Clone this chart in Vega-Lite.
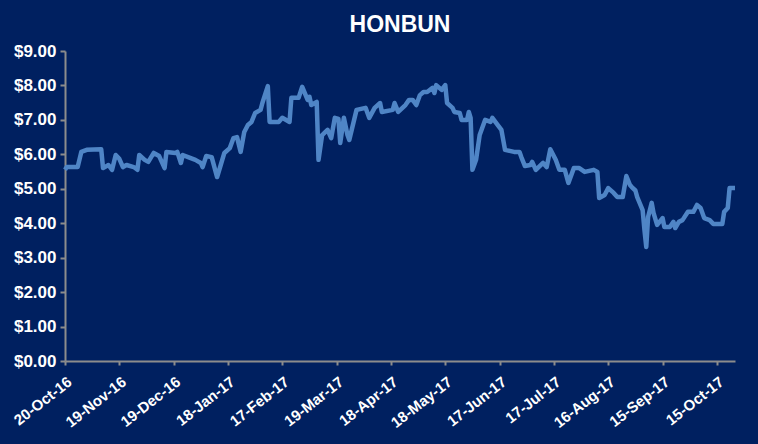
{
  "$schema": "https://vega.github.io/schema/vega-lite/v6.json",
  "width": 670,
  "height": 310,
  "autosize": "none",
  "padding": {"left": 65, "top": 51, "right": 23, "bottom": 83},
  "background": "#002060",
  "title": {"text": "HONBUN", "color": "#ffffff", "font": "Liberation Sans", "fontSize": 23, "fontWeight": "bold", "anchor": "middle", "offset": 5},
  "config": {"view": {"stroke": null}},
  "data": {
    "format": {"parse": {"date": "date:'%Y-%m-%d'"}},
    "values": [
      {"date": "2016-10-20", "price": 5.55}, {"date": "2016-10-21", "price": 5.63}, {"date": "2016-10-27", "price": 5.63},
      {"date": "2016-10-29", "price": 6.07}, {"date": "2016-11-01", "price": 6.13}, {"date": "2016-11-09", "price": 6.15},
      {"date": "2016-11-10", "price": 5.60}, {"date": "2016-11-13", "price": 5.69}, {"date": "2016-11-15", "price": 5.55},
      {"date": "2016-11-17", "price": 5.98}, {"date": "2016-11-19", "price": 5.87}, {"date": "2016-11-21", "price": 5.63},
      {"date": "2016-11-23", "price": 5.69}, {"date": "2016-11-27", "price": 5.63}, {"date": "2016-11-29", "price": 5.55},
      {"date": "2016-11-30", "price": 5.98}, {"date": "2016-12-03", "price": 5.84}, {"date": "2016-12-05", "price": 5.78},
      {"date": "2016-12-08", "price": 6.04}, {"date": "2016-12-11", "price": 5.95}, {"date": "2016-12-14", "price": 5.60},
      {"date": "2016-12-15", "price": 6.07}, {"date": "2016-12-20", "price": 6.04}, {"date": "2016-12-21", "price": 6.07},
      {"date": "2016-12-23", "price": 5.75}, {"date": "2016-12-24", "price": 5.98}, {"date": "2016-12-27", "price": 5.92},
      {"date": "2016-12-31", "price": 5.84}, {"date": "2017-01-03", "price": 5.75}, {"date": "2017-01-04", "price": 5.63},
      {"date": "2017-01-06", "price": 5.95}, {"date": "2017-01-09", "price": 5.92}, {"date": "2017-01-12", "price": 5.34},
      {"date": "2017-01-14", "price": 5.69}, {"date": "2017-01-16", "price": 6.04}, {"date": "2017-01-19", "price": 6.18},
      {"date": "2017-01-21", "price": 6.47}, {"date": "2017-01-23", "price": 6.50}, {"date": "2017-01-25", "price": 6.07},
      {"date": "2017-01-27", "price": 6.65}, {"date": "2017-01-29", "price": 6.85}, {"date": "2017-01-31", "price": 6.94},
      {"date": "2017-02-02", "price": 7.20}, {"date": "2017-02-05", "price": 7.29}, {"date": "2017-02-06", "price": 7.49},
      {"date": "2017-02-09", "price": 7.98}, {"date": "2017-02-10", "price": 6.94}, {"date": "2017-02-15", "price": 6.94},
      {"date": "2017-02-17", "price": 7.06}, {"date": "2017-02-21", "price": 6.94}, {"date": "2017-02-22", "price": 7.64},
      {"date": "2017-02-26", "price": 7.64}, {"date": "2017-02-28", "price": 7.96}, {"date": "2017-03-03", "price": 7.58},
      {"date": "2017-03-04", "price": 7.67}, {"date": "2017-03-05", "price": 7.43}, {"date": "2017-03-08", "price": 7.52},
      {"date": "2017-03-09", "price": 5.84}, {"date": "2017-03-11", "price": 6.56}, {"date": "2017-03-14", "price": 6.71},
      {"date": "2017-03-16", "price": 6.47}, {"date": "2017-03-18", "price": 7.06}, {"date": "2017-03-20", "price": 7.03},
      {"date": "2017-03-21", "price": 6.33}, {"date": "2017-03-23", "price": 7.06}, {"date": "2017-03-25", "price": 6.56},
      {"date": "2017-03-26", "price": 6.42}, {"date": "2017-03-30", "price": 7.29}, {"date": "2017-04-04", "price": 7.35},
      {"date": "2017-04-06", "price": 7.06}, {"date": "2017-04-09", "price": 7.35}, {"date": "2017-04-12", "price": 7.49},
      {"date": "2017-04-13", "price": 7.23}, {"date": "2017-04-19", "price": 7.29}, {"date": "2017-04-20", "price": 7.49},
      {"date": "2017-04-22", "price": 7.23}, {"date": "2017-04-26", "price": 7.43}, {"date": "2017-04-28", "price": 7.58},
      {"date": "2017-04-30", "price": 7.58}, {"date": "2017-05-02", "price": 7.43}, {"date": "2017-05-04", "price": 7.72},
      {"date": "2017-05-06", "price": 7.81}, {"date": "2017-05-08", "price": 7.81}, {"date": "2017-05-11", "price": 7.93},
      {"date": "2017-05-12", "price": 7.78}, {"date": "2017-05-13", "price": 8.01}, {"date": "2017-05-16", "price": 7.87},
      {"date": "2017-05-18", "price": 8.01}, {"date": "2017-05-19", "price": 7.49}, {"date": "2017-05-22", "price": 7.35},
      {"date": "2017-05-23", "price": 7.23}, {"date": "2017-05-26", "price": 7.20}, {"date": "2017-05-27", "price": 7.00},
      {"date": "2017-05-30", "price": 7.00}, {"date": "2017-05-31", "price": 7.23}, {"date": "2017-06-01", "price": 7.06},
      {"date": "2017-06-02", "price": 5.55}, {"date": "2017-06-04", "price": 5.84}, {"date": "2017-06-06", "price": 6.56},
      {"date": "2017-06-09", "price": 7.00}, {"date": "2017-06-12", "price": 6.94}, {"date": "2017-06-13", "price": 7.06},
      {"date": "2017-06-16", "price": 6.85}, {"date": "2017-06-18", "price": 6.71}, {"date": "2017-06-20", "price": 6.13},
      {"date": "2017-06-25", "price": 6.07}, {"date": "2017-06-28", "price": 6.07}, {"date": "2017-06-29", "price": 5.92},
      {"date": "2017-07-01", "price": 5.66}, {"date": "2017-07-04", "price": 5.69}, {"date": "2017-07-05", "price": 5.78},
      {"date": "2017-07-07", "price": 5.55}, {"date": "2017-07-11", "price": 5.75}, {"date": "2017-07-13", "price": 5.63},
      {"date": "2017-07-15", "price": 6.15}, {"date": "2017-07-18", "price": 5.84}, {"date": "2017-07-20", "price": 5.55},
      {"date": "2017-07-23", "price": 5.55}, {"date": "2017-07-25", "price": 5.17}, {"date": "2017-07-28", "price": 5.60},
      {"date": "2017-07-31", "price": 5.60}, {"date": "2017-08-03", "price": 5.49}, {"date": "2017-08-08", "price": 5.55},
      {"date": "2017-08-10", "price": 5.49}, {"date": "2017-08-11", "price": 4.73}, {"date": "2017-08-14", "price": 4.82},
      {"date": "2017-08-16", "price": 5.02}, {"date": "2017-08-19", "price": 4.88}, {"date": "2017-08-21", "price": 4.76},
      {"date": "2017-08-24", "price": 4.76}, {"date": "2017-08-26", "price": 5.37}, {"date": "2017-08-28", "price": 5.11},
      {"date": "2017-08-29", "price": 5.05}, {"date": "2017-08-31", "price": 4.95}, {"date": "2017-09-01", "price": 4.76},
      {"date": "2017-09-04", "price": 4.38}, {"date": "2017-09-05", "price": 3.80}, {"date": "2017-09-06", "price": 3.31},
      {"date": "2017-09-07", "price": 4.18}, {"date": "2017-09-09", "price": 4.59}, {"date": "2017-09-10", "price": 4.30},
      {"date": "2017-09-12", "price": 3.95}, {"date": "2017-09-15", "price": 4.15}, {"date": "2017-09-16", "price": 3.89},
      {"date": "2017-09-19", "price": 3.89}, {"date": "2017-09-21", "price": 4.04}, {"date": "2017-09-22", "price": 3.86},
      {"date": "2017-09-24", "price": 4.04}, {"date": "2017-09-26", "price": 4.09}, {"date": "2017-09-29", "price": 4.33},
      {"date": "2017-10-02", "price": 4.33}, {"date": "2017-10-04", "price": 4.53}, {"date": "2017-10-06", "price": 4.44},
      {"date": "2017-10-08", "price": 4.15}, {"date": "2017-10-11", "price": 4.09}, {"date": "2017-10-13", "price": 3.98},
      {"date": "2017-10-18", "price": 3.98}, {"date": "2017-10-19", "price": 4.33}, {"date": "2017-10-21", "price": 4.44},
      {"date": "2017-10-22", "price": 5.02}, {"date": "2017-10-25", "price": 5.02}
    ]
  },
  "mark": {"type": "line", "color": "#4f85c6", "strokeWidth": 4.5, "strokeJoin": "round"},
  "encoding": {
    "x": {
      "field": "date", "type": "temporal",
      "scale": {"domain": [{"year": 2016, "month": 10, "date": 20}, {"year": 2017, "month": 10, "date": 25}]},
      "axis": {
        "title": null, "grid": false,
        "values": [
          {"year": 2016, "month": 10, "date": 20}, {"year": 2016, "month": 11, "date": 19}, {"year": 2016, "month": 12, "date": 19},
          {"year": 2017, "month": 1, "date": 18}, {"year": 2017, "month": 2, "date": 17}, {"year": 2017, "month": 3, "date": 19},
          {"year": 2017, "month": 4, "date": 18}, {"year": 2017, "month": 5, "date": 18}, {"year": 2017, "month": 6, "date": 17},
          {"year": 2017, "month": 7, "date": 17}, {"year": 2017, "month": 8, "date": 16}, {"year": 2017, "month": 9, "date": 15},
          {"year": 2017, "month": 10, "date": 15}
        ],
        "format": "%-d-%b-%y",
        "labelAngle": -38, "labelAlign": "right", "labelBaseline": "top",
        "labelColor": "#ffffff", "labelFont": "Liberation Sans", "labelFontSize": 15, "labelFontWeight": "bold",
        "labelPadding": 9, "labelOverlap": false, "labelFlush": false,
        "domainColor": "#8c8c8c", "domainWidth": 2, "tickColor": "#8c8c8c", "tickWidth": 2, "tickSize": 4
      }
    },
    "y": {
      "field": "price", "type": "quantitative",
      "scale": {"domain": [0, 9], "nice": false},
      "axis": {
        "title": null, "grid": false, "values": [0, 1, 2, 3, 4, 5, 6, 7, 8, 9], "format": "$.2f",
        "labelColor": "#ffffff", "labelFont": "Liberation Sans", "labelFontSize": 17, "labelFontWeight": "bold",
        "labelPadding": 4,
        "domainColor": "#8c8c8c", "domainWidth": 2, "tickColor": "#8c8c8c", "tickWidth": 2, "tickSize": 5
      }
    }
  }
}
